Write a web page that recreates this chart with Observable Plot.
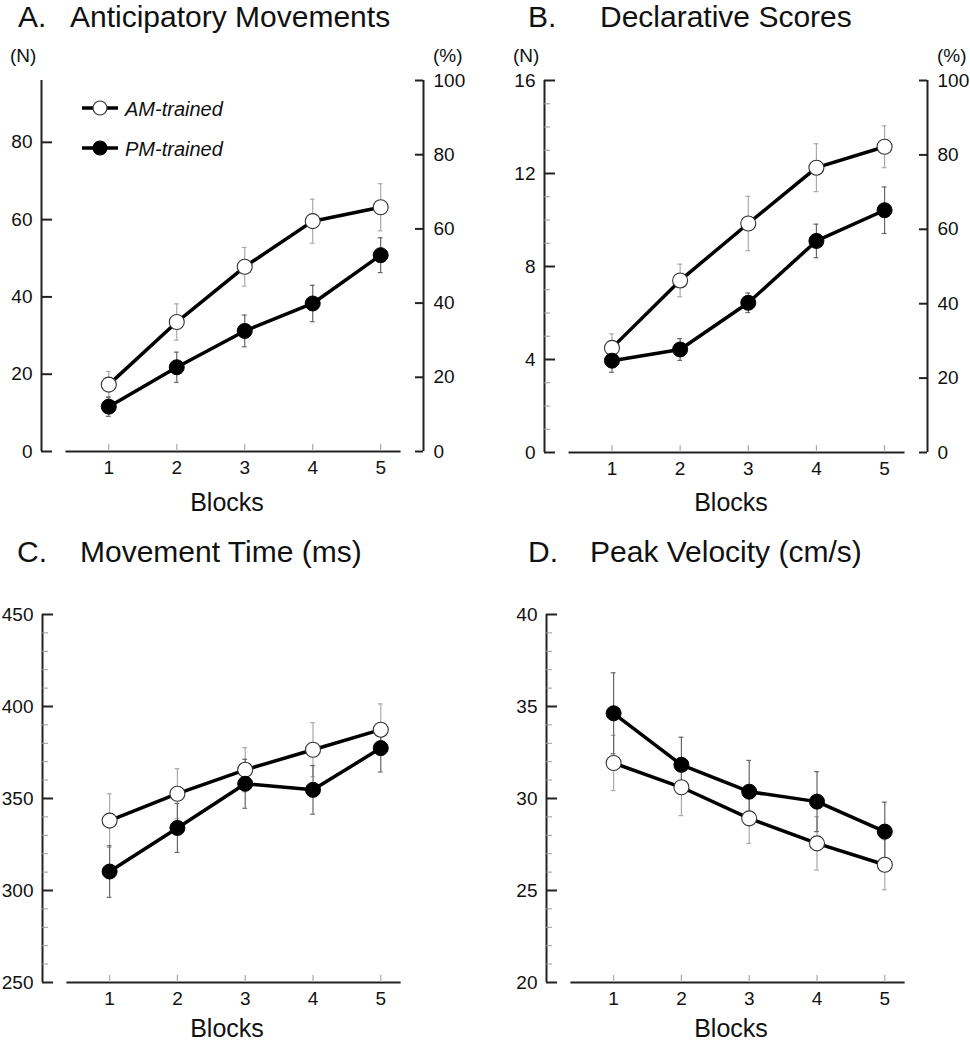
<!DOCTYPE html>
<html><head><meta charset="utf-8">
<script src="https://cdn.jsdelivr.net/npm/d3@7"></script>
<script src="https://cdn.jsdelivr.net/npm/@observablehq/plot@0.6"></script>
<style>
body{margin:0;background:#fff;}
#root{position:relative;width:970px;height:1050px;font-family:"Liberation Sans",Arial,Helvetica,sans-serif;color:#111;overflow:hidden;background:#fff}
.t{position:absolute;white-space:nowrap;line-height:1;}
.panel{position:absolute;}
</style></head><body><div id="root"></div>
<script>
// ---------- data ----------
const blocks = [1, 2, 3, 4, 5];
const seriesNames = ["AM-trained", "PM-trained"];

// A. Anticipatory Movements (N)
const amAntic   = [17.3, 33.5, 47.8, 59.6, 63.2];
const amAnticSE = [3.4, 4.7, 5.0, 5.7, 6.1];
const pmAntic   = [11.6, 21.8, 31.2, 38.3, 50.8];
const pmAnticSE = [2.5, 3.9, 4.1, 4.7, 4.5];

// B. Declarative Scores (N)
const amDecl   = [4.5, 7.4, 9.85, 12.25, 13.15];
const amDeclSE = [0.6, 0.7, 1.17, 1.03, 0.9];
const pmDecl   = [3.95, 4.43, 6.44, 9.1, 10.42];
const pmDeclSE = [0.5, 0.47, 0.42, 0.72, 1.0];

// C. Movement Time (ms)
const amMT   = [338, 352.6, 365.6, 376.5, 387.4];
const amMTSE = [14.5, 13.6, 12, 14.7, 14];
const pmMT   = [310.3, 334, 358, 354.7, 377.4];
const pmMTSE = [14, 13.3, 13.3, 13.2, 13];

// D. Peak Velocity (cm/s)
const amPV   = [31.93, 30.61, 28.92, 27.56, 26.4];
const amPVSE = [1.5, 1.54, 1.36, 1.45, 1.36];
const pmPV   = [34.63, 31.83, 30.37, 29.83, 28.2];
const pmPVSE = [2.2, 1.5, 1.7, 1.63, 1.6];

// tick labels
const anticTicks = [0, 20, 40, 60, 80];
const pctTicks   = [0, 20, 40, 60, 80, 100];
const declTicks  = [0, 4, 8, 12, 16];
const declMinor  = d3.range(0, 17, 1).filter(v => v % 4 !== 0);
const mtTicks    = [250, 300, 350, 400, 450];
const mtMinor    = d3.range(250, 451, 10).filter(v => v % 50 !== 0);
const pvTicks    = [20, 25, 30, 35, 40];
const pvMinor    = d3.range(20, 41, 1).filter(v => v % 5 !== 0);

// ---------- helpers ----------
const root = document.getElementById("root");
const FONT = '"Liberation Sans", Arial, Helvetica, sans-serif';
const axisColor = "#222";

function addText(str, x, baseline, size, opts = {}) {
  const d = document.createElement("div");
  d.className = "t";
  d.textContent = str;
  d.style.fontSize = size + "px";
  d.style.left = x + "px";
  d.style.top = (baseline - 0.8465 * size) + "px";
  if (opts.italic) d.style.fontStyle = "italic";
  if (opts.anchor === "middle") d.style.transform = "translateX(-50%)";
  root.appendChild(d);
}

function panel({left, top, width, height, mL, mR, mT, mB, yDomain, yTicks, yMinor = [], pctFactor = null, am, amSE, pm, pmSE}) {
  const xDomain = [0.01, 5.63];
  const xAxisSpan = [0.37, 5.3];
  const innerW = width - mL - mR, innerH = height - mT - mB;
  const rows = (v, se) => blocks.map((b, i) => ({block: b, v: v[i], lo: v[i] - se[i], hi: v[i] + se[i]}));
  const A = rows(am, amSE), P = rows(pm, pmSE);
  const cap = 0.035;
  const errMarks = (data, color) => [
    Plot.ruleX(data, {x: "block", y1: "lo", y2: "hi", stroke: color, strokeWidth: 1.2}),
    Plot.ruleY(data, {y: "hi", x1: d => d.block - cap, x2: d => d.block + cap, stroke: color, strokeWidth: 1.2}),
    Plot.ruleY(data, {y: "lo", x1: d => d.block - cap, x2: d => d.block + cap, stroke: color, strokeWidth: 1.2})
  ];
  const marks = [
    Plot.ruleY([yDomain[0]], {x1: xAxisSpan[0], x2: xAxisSpan[1], stroke: axisColor, strokeWidth: 2}),
    Plot.ruleX([xDomain[0]], {stroke: axisColor, strokeWidth: 2}),
    Plot.tickY(yMinor, {y: d => d, insetRight: innerW - 6, stroke: "#999", strokeWidth: 1}),
    Plot.tickY(yTicks, {y: d => d, insetRight: innerW - 11, stroke: axisColor, strokeWidth: 2}),
    Plot.axisY(yTicks, {anchor: "left", tickSize: 0, tickPadding: 9, label: null}),
    Plot.tickX(blocks, {x: d => d, insetTop: innerH - 7, stroke: "#aaa", strokeWidth: 1.2}),
    Plot.axisX(blocks, {anchor: "bottom", tickSize: 0, tickPadding: 9, label: null})
  ];
  if (pctFactor) {
    const pv = pctTicks.map(p => p * pctFactor);
    marks.push(
      Plot.ruleX([xDomain[1]], {stroke: axisColor, strokeWidth: 2}),
      Plot.tickY(pv, {y: d => d, insetLeft: innerW - 8, stroke: axisColor, strokeWidth: 2}),
      Plot.axisY(pv, {anchor: "right", tickSize: 0, tickPadding: 10, label: null, tickFormat: d => Math.round(d / pctFactor)})
    );
  }
  marks.push(
    ...errMarks(A, "#aaa"),
    ...errMarks(P, "#666"),
    Plot.line(A, {x: "block", y: "v", stroke: "#000", strokeWidth: 3.5}),
    Plot.line(P, {x: "block", y: "v", stroke: "#000", strokeWidth: 3.5}),
    Plot.dot(A, {x: "block", y: "v", r: 7.5, fill: "white", stroke: "#333", strokeWidth: 1.1}),
    Plot.dot(P, {x: "block", y: "v", r: 7.5, fill: "black", stroke: "black", strokeWidth: 1})
  );
  const svg = Plot.plot({
    width, height,
    marginLeft: mL, marginRight: mR, marginTop: mT, marginBottom: mB,
    x: {domain: xDomain},
    y: {domain: yDomain},
    style: {fontSize: "19px", fontFamily: FONT, color: "#111", background: "transparent", overflow: "visible"},
    marks
  });
  const wrap = document.createElement("div");
  wrap.className = "panel";
  wrap.style.left = left + "px";
  wrap.style.top = top + "px";
  wrap.appendChild(svg);
  root.appendChild(wrap);
}

// ---------- panels ----------
panel({left: 0, top: 0, width: 480, height: 520, mL: 41, mR: 57, mT: 80, mB: 69,
  yDomain: [0, 96], yTicks: anticTicks, pctFactor: 0.96,
  am: amAntic, amSE: amAnticSE, pm: pmAntic, pmSE: pmAnticSE});
panel({left: 480, top: 0, width: 490, height: 520, mL: 64, mR: 43, mT: 80, mB: 68,
  yDomain: [0, 16], yTicks: declTicks, yMinor: declMinor, pctFactor: 0.16,
  am: amDecl, amSE: amDeclSE, pm: pmDecl, pmSE: pmDeclSE});
panel({left: 0, top: 520, width: 480, height: 530, mL: 42, mR: 57, mT: 94, mB: 68,
  yDomain: [250, 450], yTicks: mtTicks, yMinor: mtMinor,
  am: amMT, amSE: amMTSE, pm: pmMT, pmSE: pmMTSE});
panel({left: 480, top: 520, width: 490, height: 530, mL: 66, mR: 43, mT: 94, mB: 68,
  yDomain: [20, 40], yTicks: pvTicks, yMinor: pvMinor,
  am: amPV, amSE: amPVSE, pm: pmPV, pmSE: pmPVSE});

// ---------- titles & labels ----------
addText("A.", 18, 27.5, 30); addText("Anticipatory Movements", 70, 27.5, 30);
addText("B.", 528, 27.5, 30); addText("Declarative Scores", 600, 27.5, 30);
addText("C.", 17, 562, 30); addText("Movement Time (ms)", 80, 562, 30);
addText("D.", 528, 562, 30); addText("Peak Velocity (cm/s)", 590, 562, 30);

addText("(N)", 10, 62, 19); addText("(%)", 433, 62, 19);
addText("(N)", 513, 62, 19); addText("(%)", 937, 62, 19);

addText("Blocks", 227, 511, 25, {anchor: "middle"});
addText("Blocks", 731, 511, 25, {anchor: "middle"});
addText("Blocks", 227, 1037, 25, {anchor: "middle"});
addText("Blocks", 731, 1037, 25, {anchor: "middle"});

// ---------- legend (panel A) ----------
const legendY = [108, 148];
seriesNames.forEach((name, i) => {
  const ns = "http://www.w3.org/2000/svg";
  const s = document.createElementNS(ns, "svg");
  s.setAttribute("width", 40); s.setAttribute("height", 20);
  s.style.position = "absolute";
  s.style.left = "80px";
  s.style.top = (legendY[i] - 10) + "px";
  const ln = document.createElementNS(ns, "line");
  ln.setAttribute("x1", 2); ln.setAttribute("x2", 38); ln.setAttribute("y1", 10); ln.setAttribute("y2", 10);
  ln.setAttribute("stroke", "#000"); ln.setAttribute("stroke-width", 3.5);
  const c = document.createElementNS(ns, "circle");
  c.setAttribute("cx", 20); c.setAttribute("cy", 10); c.setAttribute("r", 7);
  c.setAttribute("fill", i === 0 ? "white" : "black");
  c.setAttribute("stroke", i === 0 ? "#333" : "black"); c.setAttribute("stroke-width", 1.1);
  s.appendChild(ln); s.appendChild(c);
  root.appendChild(s);
  addText(name, 125, legendY[i] + 8, 20, {italic: true});
});
</script>
</body></html>
